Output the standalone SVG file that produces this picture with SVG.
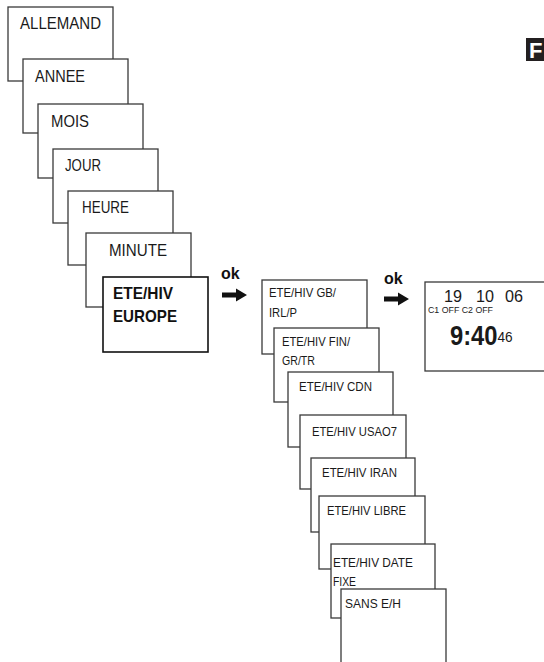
<svg xmlns="http://www.w3.org/2000/svg" width="544" height="662" viewBox="0 0 544 662">
<style>
.box{fill:#fff;stroke:#3a3a3a;stroke-width:1.3}
.sel{fill:#fff;stroke:#111;stroke-width:1.6}
.t{font-family:"Liberation Sans",Arial,sans-serif;font-size:16.5px;fill:#1a1a1a}
.tb{font-family:"Liberation Sans",Arial,sans-serif;font-size:17px;font-weight:bold;fill:#111}
.s{font-family:"Liberation Sans",Arial,sans-serif;font-size:13px;fill:#1a1a1a}
.ok{font-family:"Liberation Sans",Arial,sans-serif;font-size:16px;font-weight:bold;fill:#111}
.d{font-family:"Liberation Sans",Arial,sans-serif;fill:#1a1a1a}
.arr{fill:#111}
</style>
<defs>
<path id="arrow" class="arr" d="M0,-2.5 H14 V-6.5 L25,0 L14,6.5 V2.5 H0 Z"/>
</defs>
<rect x="0" y="0" width="544" height="662" fill="#fff"/>

<g id="allemand"><rect class="box" x="8" y="7" width="105" height="74"/><text class="t" x="20" y="29" textLength="81" lengthAdjust="spacingAndGlyphs">ALLEMAND</text></g>
<g id="annee"><rect class="box" x="23" y="59" width="105" height="74"/><text class="t" x="35" y="82" textLength="50" lengthAdjust="spacingAndGlyphs">ANNEE</text></g>
<g id="mois"><rect class="box" x="38" y="104" width="105" height="74"/><text class="t" x="51" y="127" textLength="38" lengthAdjust="spacingAndGlyphs">MOIS</text></g>
<g id="jour"><rect class="box" x="53" y="149" width="105" height="74"/><text class="t" x="65" y="171" textLength="36" lengthAdjust="spacingAndGlyphs">JOUR</text></g>
<g id="heure"><rect class="box" x="68" y="191" width="105" height="74"/><text class="t" x="82" y="213" textLength="47" lengthAdjust="spacingAndGlyphs">HEURE</text></g>
<g id="minute"><rect class="box" x="86" y="233" width="105" height="74"/><text class="t" x="109" y="256" textLength="58" lengthAdjust="spacingAndGlyphs">MINUTE</text></g>
<g id="ete-europe"><rect class="sel" x="103" y="277" width="105" height="75"/><text class="tb" x="113" y="299" textLength="60" lengthAdjust="spacingAndGlyphs">ETE/HIV</text><text class="tb" x="113" y="322" textLength="64" lengthAdjust="spacingAndGlyphs">EUROPE</text></g>

<g id="gb"><rect class="box" x="262" y="280" width="105" height="74"/><text class="s" x="269" y="297" textLength="67" lengthAdjust="spacingAndGlyphs">ETE/HIV GB/</text><text class="s" x="269" y="317" textLength="28" lengthAdjust="spacingAndGlyphs">IRL/P</text></g>
<g id="fin"><rect class="box" x="274" y="328" width="105" height="74"/><text class="s" x="282" y="346" textLength="68" lengthAdjust="spacingAndGlyphs">ETE/HIV FIN/</text><text class="s" x="282" y="365" textLength="33" lengthAdjust="spacingAndGlyphs">GR/TR</text></g>
<g id="cdn"><rect class="box" x="288" y="372" width="105" height="75"/><text class="s" x="299" y="391" textLength="73" lengthAdjust="spacingAndGlyphs">ETE/HIV CDN</text></g>
<g id="usa"><rect class="box" x="300" y="415" width="106" height="74"/><text class="s" x="312" y="436" textLength="85" lengthAdjust="spacingAndGlyphs">ETE/HIV USAO7</text></g>
<g id="iran"><rect class="box" x="311" y="458" width="104" height="74"/><text class="s" x="322" y="477" textLength="75" lengthAdjust="spacingAndGlyphs">ETE/HIV IRAN</text></g>
<g id="libre"><rect class="box" x="319" y="496" width="106" height="73"/><text class="s" x="327" y="515" textLength="79" lengthAdjust="spacingAndGlyphs">ETE/HIV LIBRE</text></g>
<g id="date-fixe"><rect class="box" x="331" y="544" width="104" height="74"/><text class="s" x="333" y="567" textLength="80" lengthAdjust="spacingAndGlyphs">ETE/HIV DATE</text><text class="s" x="333" y="586" textLength="23" lengthAdjust="spacingAndGlyphs">FIXE</text></g>
<g id="sans"><rect class="box" x="341" y="589" width="105" height="80"/><text class="s" x="345" y="608" textLength="56" lengthAdjust="spacingAndGlyphs">SANS E/H</text></g>

<g id="display">
<rect class="box" x="425" y="282" width="130" height="89"/>
<text class="d" x="444" y="302" font-size="17" textLength="18" lengthAdjust="spacingAndGlyphs">19</text>
<text class="d" x="476" y="302" font-size="17" textLength="18" lengthAdjust="spacingAndGlyphs">10</text>
<text class="d" x="505" y="302" font-size="17" textLength="18" lengthAdjust="spacingAndGlyphs">06</text>
<text class="d" x="428" y="313" font-size="8.5" textLength="65" lengthAdjust="spacingAndGlyphs">C1 OFF C2 OFF</text>
<text class="d" transform="translate(450,345) scale(0.88,1)" font-size="27" font-weight="bold">9:40<tspan font-size="15.5" font-weight="normal" dy="-3">46</tspan></text>
</g>

<g id="lang-tab">
<rect x="526" y="38" width="18" height="23" fill="#231f20"/>
<text x="529" y="58" font-family="'Liberation Sans',Arial,sans-serif" font-size="22" font-weight="bold" fill="#fff">F</text>
</g>

<g id="connectors">
<text class="ok" x="221" y="279">ok</text>
<use href="#arrow" x="222" y="295"/>
<text class="ok" x="384" y="284">ok</text>
<use href="#arrow" x="384" y="299"/>
</g>
</svg>
